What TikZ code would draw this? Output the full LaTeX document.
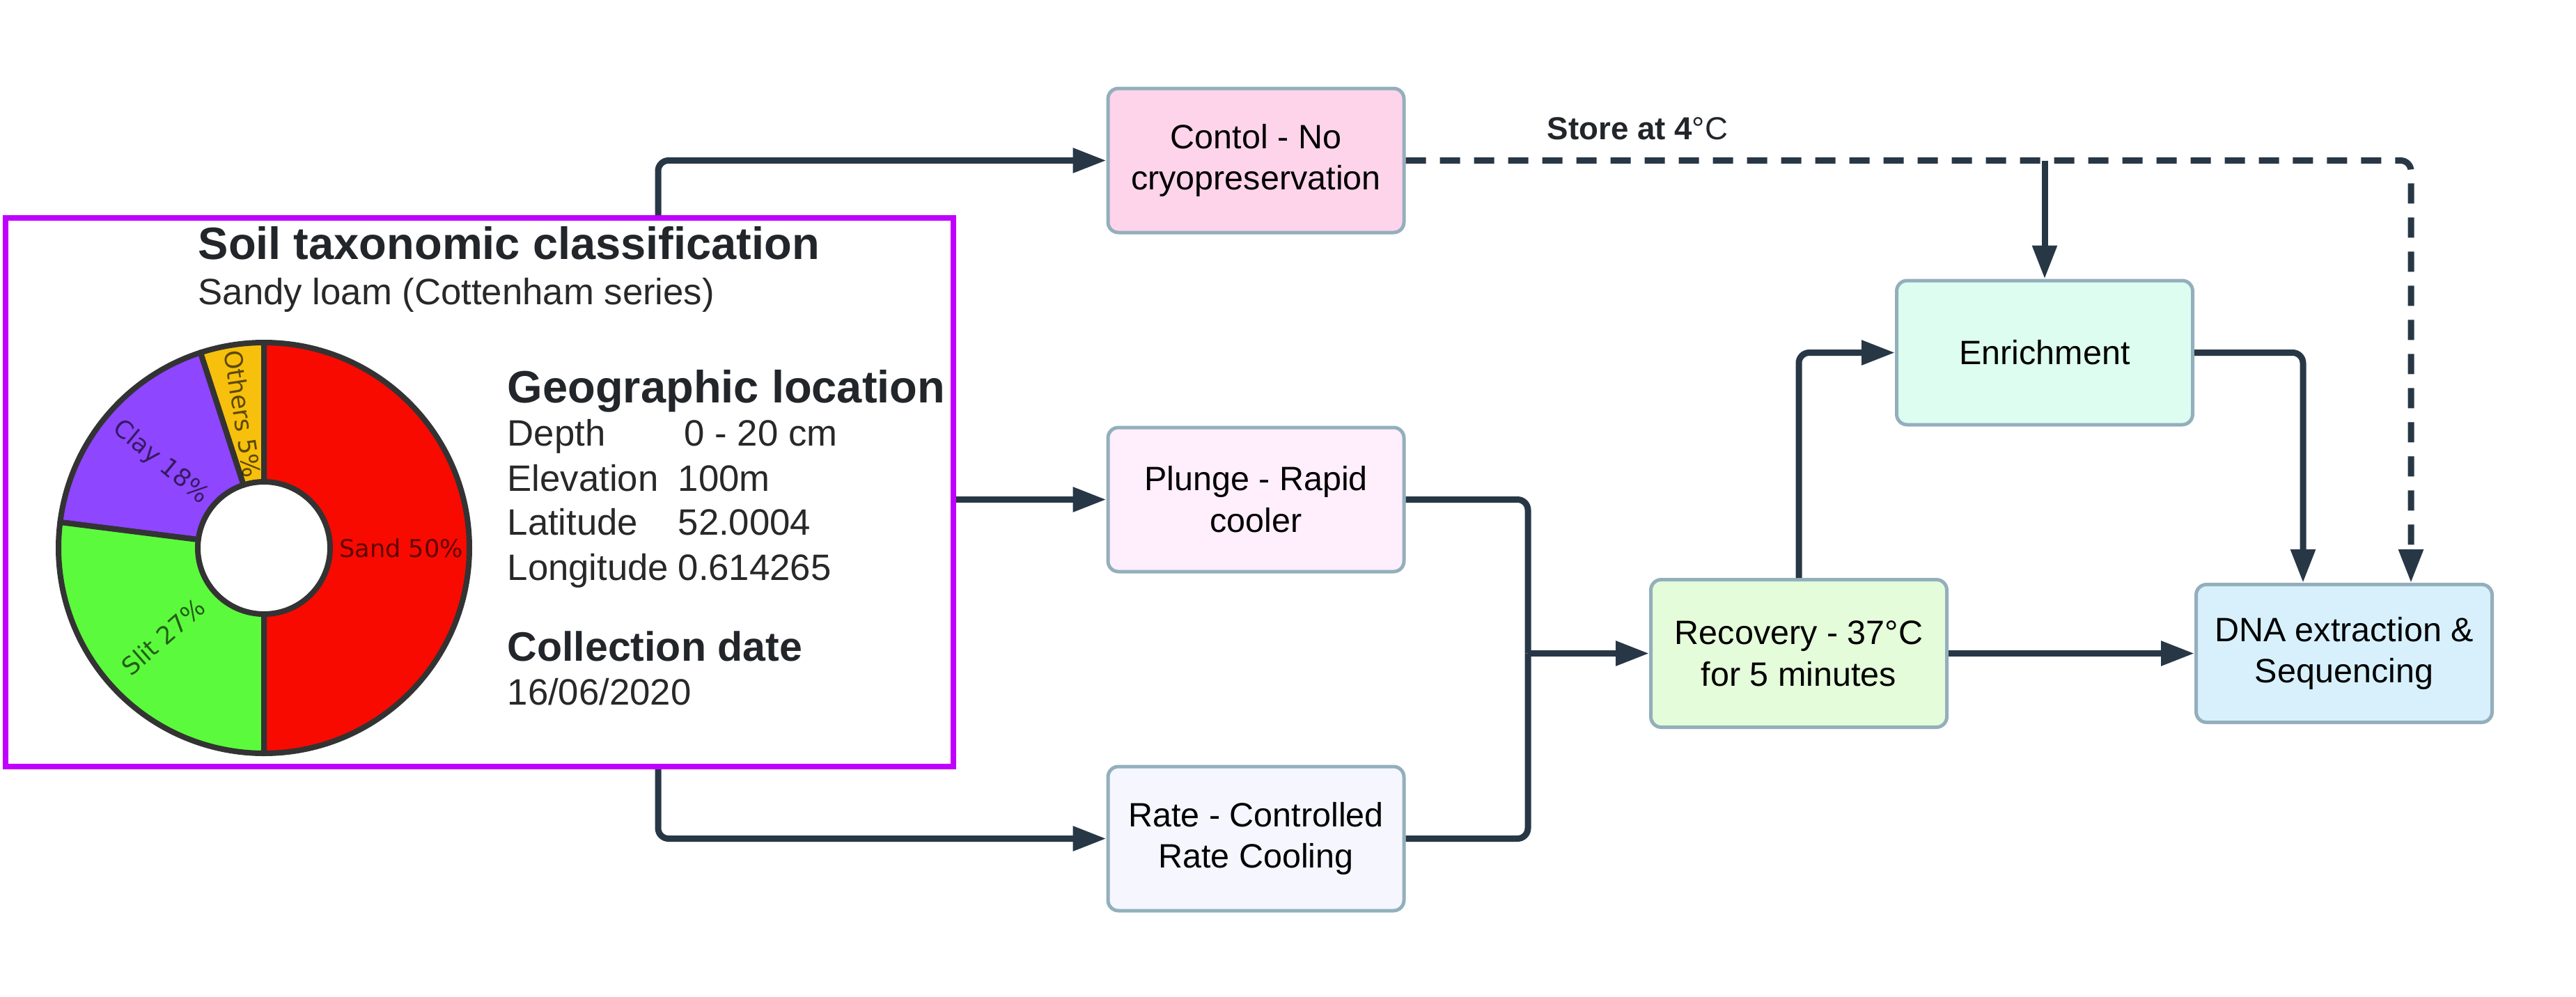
\documentclass[tikz,border=0pt]{standalone}
\usepackage{fontspec}
\setmainfont{Liberation Sans}
\newfontfamily\piefont{DejaVu Sans}
\usepackage{xcolor}
\usepackage{tikz}
\usetikzlibrary{arrows.meta, positioning, calc}

\definecolor{linkcol}{RGB}{40,55,70}
\definecolor{edgecol}{RGB}{147,175,188}
\definecolor{soilcol}{RGB}{192,0,255}
\definecolor{ctlfill}{RGB}{253,212,234}
\definecolor{plgfill}{RGB}{255,238,251}
\definecolor{ratefill}{RGB}{245,246,254}
\definecolor{enrfill}{RGB}{221,253,240}
\definecolor{recfill}{RGB}{228,252,218}
\definecolor{dnafill}{RGB}{215,240,252}
\definecolor{sandcol}{RGB}{248,10,0}
\definecolor{slitcol}{RGB}{92,250,60}
\definecolor{claycol}{RGB}{142,70,255}
\definecolor{othercol}{RGB}{246,192,12}
\definecolor{piegray}{RGB}{51,51,51}
\definecolor{headcol}{RGB}{34,38,42}
\definecolor{bodycol}{RGB}{40,40,40}

\begin{document}
\begin{tikzpicture}[
   node distance = 2.75cm,
   stepbox/.style = {draw=edgecol, line width=0.05cm, rounded corners=0.15cm, minimum width=4.25cm, minimum height=2.07cm, align=center, inner sep=0pt, font=\fontsize{13.8}{17}\selectfont},
   line/.style = {draw=linkcol, line width=0.09cm, rounded corners=0.15cm, -{Triangle[length=0.48cm, width=0.34cm]}},
   link/.style = {draw=linkcol, line width=0.09cm, rounded corners=0.15cm},
   dashline/.style = {line, dash pattern=on 0.29cm off 0.2cm},
   piedge/.style = {draw=piegray, line width=0.08cm, line join=round},
   pielabel/.style = {font=\piefont\fontsize{10}{12}\selectfont, text opacity=0.62, inner sep=0pt},
   head/.style = {anchor=base west, inner sep=0pt, text=headcol, font=\bfseries\fontsize{18.5}{22}\selectfont},
   body/.style = {anchor=base west, inner sep=0pt, text=bodycol, font=\fontsize{15}{18}\selectfont}
   ]
  \useasboundingbox (0,0) rectangle (36.99,-14.31);

  % Soil sample box
  \node[draw=soilcol, line width=0.08cm, minimum width=13.61cm, minimum height=7.88cm, inner sep=0pt] (soil) at (6.885,-7.07) {};
  \node[head] (title) at (2.84,-3.72) {Soil taxonomic classification};
  \node[body] (series) at (2.84,-4.37) {Sandy loam (Cottenham series)};
  \node[head] (geo) at (7.28,-5.78) {Geographic location};
  \node[body] (depth) at (7.28,-6.40) {Depth};
  \node[body] at (9.82,-6.40) {0 - 20 cm};
  \node[body] (elev) at (7.28,-7.05) {Elevation};
  \node[body] at (9.73,-7.05) {100m};
  \node[body] (lat) at (7.28,-7.68) {Latitude};
  \node[body] at (9.73,-7.68) {52.0004};
  \node[body] (lon) at (7.28,-8.33) {Longitude};
  \node[body] at (9.73,-8.33) {0.614265};
  \node[head, font=\bfseries\fontsize{16.8}{20}\selectfont] (coll) at (7.28,-9.49) {Collection date};
  \node[body] (date) at (7.28,-10.12) {16/06/2020};

  % Soil texture donut
  \coordinate (pie) at (3.79,-7.87);
  \begin{scope}[shift={(pie)}]
   \filldraw[fill=sandcol, piedge] (90:2.95) arc[start angle=90, end angle=-90, radius=2.95] -- (-90:0.95) arc[start angle=-90, end angle=90, radius=0.95] -- cycle;
   \filldraw[fill=othercol, piedge] (90:2.95) arc[start angle=90, end angle=108, radius=2.95] -- (108:0.95) arc[start angle=108, end angle=90, radius=0.95] -- cycle;
   \filldraw[fill=claycol, piedge] (108:2.95) arc[start angle=108, end angle=172.8, radius=2.95] -- (172.8:0.95) arc[start angle=172.8, end angle=108, radius=0.95] -- cycle;
   \filldraw[fill=slitcol, piedge] (172.8:2.95) arc[start angle=172.8, end angle=270, radius=2.95] -- (270:0.95) arc[start angle=270, end angle=172.8, radius=0.95] -- cycle;
   \node[pielabel] (sand) at (0:1.97) {Sand 50\%};
   \node[pielabel, rotate=41.4] (slit) at (221.4:1.93) {Slit 27\%};
   \node[pielabel, rotate=-39.6] (clay) at (140.4:1.93) {Clay 18\%};
   \node[pielabel, rotate=-81] (others) at (99:1.95) {Others 5\%};
  \end{scope}

  % Cryopreservation boxes
  \node[stepbox, fill=plgfill] (plunge) at (18.035,-7.175) {Plunge - Rapid\\cooler};
  \node[stepbox, fill=ctlfill, above=of plunge] (control) {Contol - No\\cryopreservation};
  \node[stepbox, fill=ratefill, below=of plunge] (rate) {Rate - Controlled\\Rate Cooling};

  % Downstream boxes
  \node[stepbox, fill=recfill, minimum height=2.12cm] (recovery) at (25.83,-9.385) {Recovery - 37°C\\for 5 minutes};
  \node[stepbox, fill=enrfill] (enrichment) at (29.36,-5.065) {Enrichment};
  \node[stepbox, fill=dnafill, minimum height=1.98cm] (dna) at (33.66,-9.385) {DNA extraction \&\\Sequencing};

  \node[anchor=base west, inner sep=0pt, text=headcol, font=\bfseries\fontsize{13}{15}\selectfont] (store) at (22.21,-2.00) {Store at 4\textmd{°C}};

  % Arrows
  \coordinate (fork) at (9.45,-7.07);
  \coordinate (merge) at (21.94,-9.385);
  \draw[line] (soil.north -| fork) |- (control);
  \draw[line] (soil.east |- plunge) -- (plunge);
  \draw[line] (soil.south -| fork) |- (rate);
  \draw[link] (plunge) -| (merge);
  \draw[link] (rate) -| (merge);
  \draw[line] (merge) -- (recovery);
  \draw[line] (recovery) -- (dna);
  \draw[line] (recovery.north) |- (enrichment);
  \draw[line] (enrichment) -| ([xshift=-0.59cm]dna.north);
  \draw[dashline] (control) -| ([xshift=0.96cm]dna.north);
  \draw[line] (enrichment.north |- control) -- (enrichment);
\end{tikzpicture}
\end{document}
